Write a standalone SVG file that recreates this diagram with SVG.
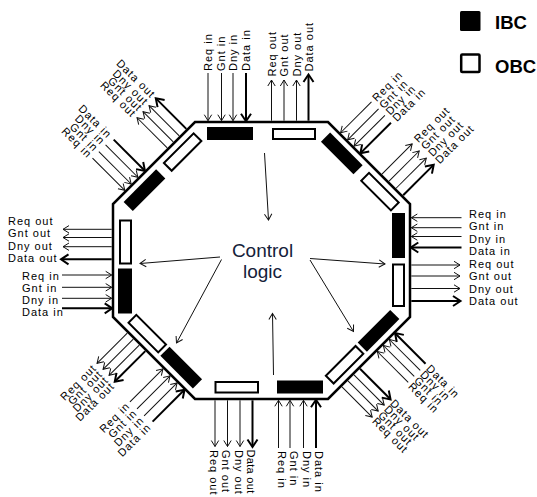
<svg xmlns="http://www.w3.org/2000/svg" width="537" height="497" viewBox="0 0 537 497">
<style>
.t{font-family:"Liberation Sans",Arial,sans-serif;font-size:11px;letter-spacing:1px;dominant-baseline:central;fill:#000}
.e{text-anchor:end}
.c{stroke:#111;stroke-width:1;fill:none;marker-end:url(#ah)}
.cb{stroke:#000;stroke-width:2;fill:none;marker-end:url(#ahb)}
.ibc{fill:#000}
.obc{fill:#fff;stroke:#000;stroke-width:2}
</style>
<defs>
<marker id="ah" markerUnits="userSpaceOnUse" markerWidth="14" markerHeight="14" refX="10" refY="7" orient="auto" overflow="visible"><path d="M4,3.3 L10,7 L4,10.7" fill="none" stroke="#111" stroke-width="1"/></marker>
<marker id="ahb" markerUnits="userSpaceOnUse" markerWidth="14" markerHeight="14" refX="9.5" refY="7" orient="auto" overflow="visible"><path d="M2.5,2 L10,7 L2.5,12" fill="none" stroke="#000" stroke-width="2"/></marker>
</defs>
<rect width="537" height="497" fill="#fff"/>

<g id="router">
<polygon points="195,122 328,122 410,204 410,317 328,399 195,399 113,317 113,204" fill="#fff" stroke="#000" stroke-width="2.5"/>
</g>

<g id="ports">
<g id="top-ibc"><rect class="ibc" x="207" y="127" width="46" height="13"/></g>
<g id="top-obc"><rect class="obc" x="273" y="129" width="42" height="10"/></g>
<g id="right-ibc"><rect class="ibc" x="392" y="213" width="13" height="45"/></g>
<g id="right-obc"><rect class="obc" x="393" y="264.5" width="11" height="41.5"/></g>
<g id="bottom-ibc"><rect class="ibc" x="277" y="380.5" width="46" height="13"/></g>
<g id="bottom-obc"><rect class="obc" x="215.5" y="382" width="42.5" height="10.5"/></g>
<g id="left-ibc"><rect class="ibc" x="118" y="268.5" width="14" height="45"/></g>
<g id="left-obc"><rect class="obc" x="120" y="220.5" width="11" height="43"/></g>
<g id="nw-ports" transform="translate(113,204) rotate(-45)"><rect class="ibc" x="9" y="6" width="46" height="13"/><rect class="obc" x="65" y="7" width="42" height="11"/></g>
<g id="ne-ports" transform="translate(328,122) rotate(45)"><rect class="ibc" x="9" y="6" width="46" height="13"/><rect class="obc" x="65" y="7" width="42" height="11"/></g>
<g id="se-ports" transform="translate(410,317) rotate(135)"><rect class="ibc" x="9" y="6" width="46" height="13"/><rect class="obc" x="59" y="7" width="42" height="11"/></g>
<g id="sw-ports" transform="translate(195,399) rotate(225)"><rect class="ibc" x="9" y="6" width="46" height="13"/><rect class="obc" x="59" y="7" width="42" height="11"/></g>
</g>

<g id="control-logic">
<text x="262.5" y="257" text-anchor="middle" font-family="'Liberation Sans',Arial,sans-serif" font-size="19" fill="#14213a">Control</text>
<text x="262.5" y="277.5" text-anchor="middle" font-family="'Liberation Sans',Arial,sans-serif" font-size="19" fill="#14213a">logic</text>
</g>

<g id="legend">
<rect x="460" y="11" width="20.5" height="20" rx="1.5" fill="#000"/>
<text x="495" y="28.5" font-family="'Liberation Sans',Arial,sans-serif" font-size="18.5" font-weight="bold">IBC</text>
<rect x="461.2" y="54.5" width="18.3" height="17.5" rx="1" fill="#fff" stroke="#000" stroke-width="2.5"/>
<text x="495" y="72.5" font-family="'Liberation Sans',Arial,sans-serif" font-size="18.5" font-weight="bold">OBC</text>
</g>

<g id="connectors">
<line class="c" x1="264.5" y1="153" x2="268.5" y2="220"/>
<line class="c" x1="220" y1="257" x2="140" y2="263.5"/>
<line class="c" x1="221.5" y1="259.5" x2="176.5" y2="343"/>
<line class="c" x1="310" y1="258.5" x2="385" y2="264"/>
<line class="c" x1="310" y1="260" x2="353.5" y2="331.5"/>
<line class="c" x1="273.5" y1="375" x2="272.5" y2="313.5"/>
<line class="c" x1="208" y1="73" x2="208" y2="120.7"/>
<line class="c" x1="221.5" y1="73" x2="221.5" y2="120.7"/>
<line class="c" x1="233" y1="73" x2="233" y2="120.7"/>
<line class="cb" x1="246" y1="73" x2="246" y2="120.7"/>
<line class="c" x1="271.5" y1="120.7" x2="271.5" y2="80"/>
<line class="c" x1="284" y1="120.7" x2="284" y2="80"/>
<line class="c" x1="296.5" y1="120.7" x2="296.5" y2="80"/>
<line class="cb" x1="308.5" y1="120.7" x2="308.5" y2="75"/>
<line class="c" x1="215" y1="400.3" x2="215" y2="446.5"/>
<line class="c" x1="227.5" y1="400.3" x2="227.5" y2="446.5"/>
<line class="c" x1="240" y1="400.3" x2="240" y2="446.5"/>
<line class="cb" x1="252.5" y1="400.3" x2="252.5" y2="446.5"/>
<line class="c" x1="278.5" y1="448" x2="278.5" y2="400.3"/>
<line class="c" x1="290" y1="448" x2="290" y2="400.3"/>
<line class="c" x1="303.5" y1="448" x2="303.5" y2="400.3"/>
<line class="cb" x1="316" y1="448" x2="316" y2="400.3"/>
<line class="c" x1="461.5" y1="217.7" x2="411.3" y2="217.7"/>
<line class="c" x1="461.5" y1="227.7" x2="411.3" y2="227.7"/>
<line class="c" x1="461.5" y1="236.5" x2="411.3" y2="236.5"/>
<line class="cb" x1="461.5" y1="247.5" x2="411.3" y2="247.5"/>
<line class="c" x1="411.3" y1="265" x2="460" y2="265"/>
<line class="c" x1="411.3" y1="276" x2="460" y2="276"/>
<line class="c" x1="411.3" y1="288.5" x2="460" y2="288.5"/>
<line class="cb" x1="411.3" y1="301" x2="460" y2="301"/>
<line class="c" x1="111.7" y1="229.3" x2="63" y2="229.3"/>
<line class="c" x1="111.7" y1="237.5" x2="63" y2="237.5"/>
<line class="c" x1="111.7" y1="246.7" x2="63" y2="246.7"/>
<line class="cb" x1="111.7" y1="259.3" x2="61.5" y2="259.3"/>
<line class="c" x1="62" y1="275" x2="111.7" y2="275"/>
<line class="c" x1="62" y1="287.3" x2="111.7" y2="287.3"/>
<line class="c" x1="62" y1="298.3" x2="111.7" y2="298.3"/>
<line class="cb" x1="62" y1="308.3" x2="111.7" y2="308.3"/>
<g transform="translate(113,204) rotate(-45)">
<line class="c" x1="18" y1="-47" x2="18" y2="-1.3"/>
<line class="c" x1="27" y1="-47" x2="27" y2="-1.3"/>
<line class="c" x1="36.5" y1="-47" x2="36.5" y2="-1.3"/>
<line class="cb" x1="46" y1="-45" x2="46" y2="-1.3"/>
<line class="c" x1="78" y1="-1.3" x2="78" y2="-44"/>
<line class="c" x1="86.5" y1="-1.3" x2="86.5" y2="-44"/>
<line class="c" x1="95" y1="-1.3" x2="95" y2="-44"/>
<line class="cb" x1="105" y1="-1.3" x2="105" y2="-44"/>
</g>
<g transform="translate(328,122) rotate(45)">
<line class="c" x1="16.5" y1="-45" x2="16.5" y2="-1.3"/>
<line class="c" x1="26.5" y1="-45" x2="26.5" y2="-1.3"/>
<line class="c" x1="35.5" y1="-45" x2="35.5" y2="-1.3"/>
<line class="cb" x1="45" y1="-44" x2="45" y2="-1.3"/>
<line class="c" x1="75" y1="-1.3" x2="75" y2="-44"/>
<line class="c" x1="85" y1="-1.3" x2="85" y2="-44"/>
<line class="c" x1="95" y1="-1.3" x2="95" y2="-44"/>
<line class="cb" x1="105" y1="-1.3" x2="105" y2="-44"/>
</g>
<g transform="translate(410,317) rotate(135)">
<line class="cb" x1="22" y1="-44" x2="22" y2="-1.3"/>
<line class="c" x1="30.5" y1="-45" x2="30.5" y2="-1.3"/>
<line class="c" x1="39" y1="-45" x2="39" y2="-1.3"/>
<line class="c" x1="47.5" y1="-45" x2="47.5" y2="-1.3"/>
<line class="cb" x1="72" y1="-1.3" x2="72" y2="-44"/>
<line class="c" x1="80.5" y1="-1.3" x2="80.5" y2="-44"/>
<line class="c" x1="89" y1="-1.3" x2="89" y2="-44"/>
<line class="c" x1="97.5" y1="-1.3" x2="97.5" y2="-44"/>
</g>
<g transform="translate(195,399) rotate(225)">
<line class="cb" x1="14" y1="-46" x2="14" y2="-1.3"/>
<line class="c" x1="24" y1="-48" x2="24" y2="-1.3"/>
<line class="c" x1="34" y1="-48" x2="34" y2="-1.3"/>
<line class="c" x1="44" y1="-48" x2="44" y2="-1.3"/>
<line class="cb" x1="69" y1="-1.3" x2="69" y2="-44"/>
<line class="c" x1="77.5" y1="-1.3" x2="77.5" y2="-44"/>
<line class="c" x1="86" y1="-1.3" x2="86" y2="-44"/>
<line class="c" x1="94.5" y1="-1.3" x2="94.5" y2="-44"/>
</g>
</g>

<g id="labels">
<text class="t" transform="translate(208,71) rotate(-90)">Req in</text>
<text class="t" transform="translate(220.6,71) rotate(-90)">Gnt in</text>
<text class="t" transform="translate(233.2,71) rotate(-90)">Dny in</text>
<text class="t" transform="translate(245.8,71) rotate(-90)">Data in</text>
<text class="t" transform="translate(271.5,76.5) rotate(-90)">Req out</text>
<text class="t" transform="translate(284,76.5) rotate(-90)">Gnt out</text>
<text class="t" transform="translate(296.5,76.5) rotate(-90)">Dny out</text>
<text class="t" transform="translate(309,71.5) rotate(-90)">Data out</text>
<text class="t" transform="translate(213.5,450) rotate(90)">Req out</text>
<text class="t" transform="translate(226,450) rotate(90)">Gnt out</text>
<text class="t" transform="translate(238.5,450) rotate(90)">Dny out</text>
<text class="t" transform="translate(251,449.5) rotate(90)" style="letter-spacing:0.3px">Data out</text>
<text class="t" transform="translate(281.5,451) rotate(90)">Req in</text>
<text class="t" transform="translate(294,451) rotate(90)">Gnt in</text>
<text class="t" transform="translate(306.5,451) rotate(90)">Dny in</text>
<text class="t" transform="translate(319,451) rotate(90)">Data in</text>
<text class="t" x="469" y="213.5">Req in</text>
<text class="t" x="469" y="226">Gnt in</text>
<text class="t" x="469" y="238.5">Dny in</text>
<text class="t" x="469" y="251">Data in</text>
<text class="t" x="469" y="263.5">Req out</text>
<text class="t" x="469" y="276">Gnt out</text>
<text class="t" x="469" y="288.5">Dny out</text>
<text class="t" x="469" y="301">Data out</text>
<text class="t" x="8" y="221">Req out</text>
<text class="t" x="8" y="233.3">Gnt out</text>
<text class="t" x="8" y="245.6">Dny out</text>
<text class="t" x="8" y="257.9">Data out</text>
<text class="t" x="22" y="275.5">Req in</text>
<text class="t" x="22" y="287.8">Gnt in</text>
<text class="t" x="22" y="300.1">Dny in</text>
<text class="t" x="22" y="312.4">Data in</text>
<g transform="translate(113,204) rotate(-45)">
<text class="t e" transform="translate(18,-50) rotate(90)">Req in</text>
<text class="t e" transform="translate(27,-50) rotate(90)">Gnt in</text>
<text class="t e" transform="translate(36.5,-50) rotate(90)">Dny in</text>
<text class="t e" transform="translate(46,-50) rotate(90)">Data in</text>
<text class="t e" transform="translate(78,-47.5) rotate(90)">Req out</text>
<text class="t e" transform="translate(86.5,-47.5) rotate(90)">Gnt out</text>
<text class="t e" transform="translate(95,-47.5) rotate(90)">Dny out</text>
<text class="t e" transform="translate(105,-47.5) rotate(90)">Data out</text>
</g>
<g transform="translate(328,122) rotate(45)">
<text class="t" transform="translate(16.5,-48.5) rotate(-90)">Req in</text>
<text class="t" transform="translate(26.5,-48.5) rotate(-90)">Gnt in</text>
<text class="t" transform="translate(35.5,-48.5) rotate(-90)">Dny in</text>
<text class="t" transform="translate(45,-48.5) rotate(-90)">Data in</text>
<text class="t" transform="translate(75,-49) rotate(-90)">Req out</text>
<text class="t" transform="translate(85,-49) rotate(-90)">Gnt out</text>
<text class="t" transform="translate(95,-49) rotate(-90)">Dny out</text>
<text class="t" transform="translate(105,-49) rotate(-90)">Data out</text>
</g>
<g transform="translate(410,317) rotate(135)">
<text class="t" transform="translate(22,-48) rotate(-90)">Data in</text>
<text class="t" transform="translate(30.5,-48) rotate(-90)">Dny in</text>
<text class="t" transform="translate(39,-48) rotate(-90)">Gnt in</text>
<text class="t" transform="translate(47.5,-48) rotate(-90)">Req in</text>
<text class="t" transform="translate(72,-47) rotate(-90)">Data out</text>
<text class="t" transform="translate(80.5,-47) rotate(-90)">Dny out</text>
<text class="t" transform="translate(89,-47) rotate(-90)">Gnt out</text>
<text class="t" transform="translate(97.5,-47) rotate(-90)">Req out</text>
</g>
<g transform="translate(195,399) rotate(225)">
<text class="t e" transform="translate(14,-51) rotate(90)">Data in</text>
<text class="t e" transform="translate(24,-51) rotate(90)">Dny in</text>
<text class="t e" transform="translate(34,-51) rotate(90)">Gnt in</text>
<text class="t e" transform="translate(44,-51) rotate(90)">Req in</text>
<text class="t e" transform="translate(69,-48) rotate(90)">Data out</text>
<text class="t e" transform="translate(77.5,-48) rotate(90)">Dny out</text>
<text class="t e" transform="translate(86,-48) rotate(90)">Gnt out</text>
<text class="t e" transform="translate(94.5,-48) rotate(90)">Req out</text>
</g>
</g>
</svg>
